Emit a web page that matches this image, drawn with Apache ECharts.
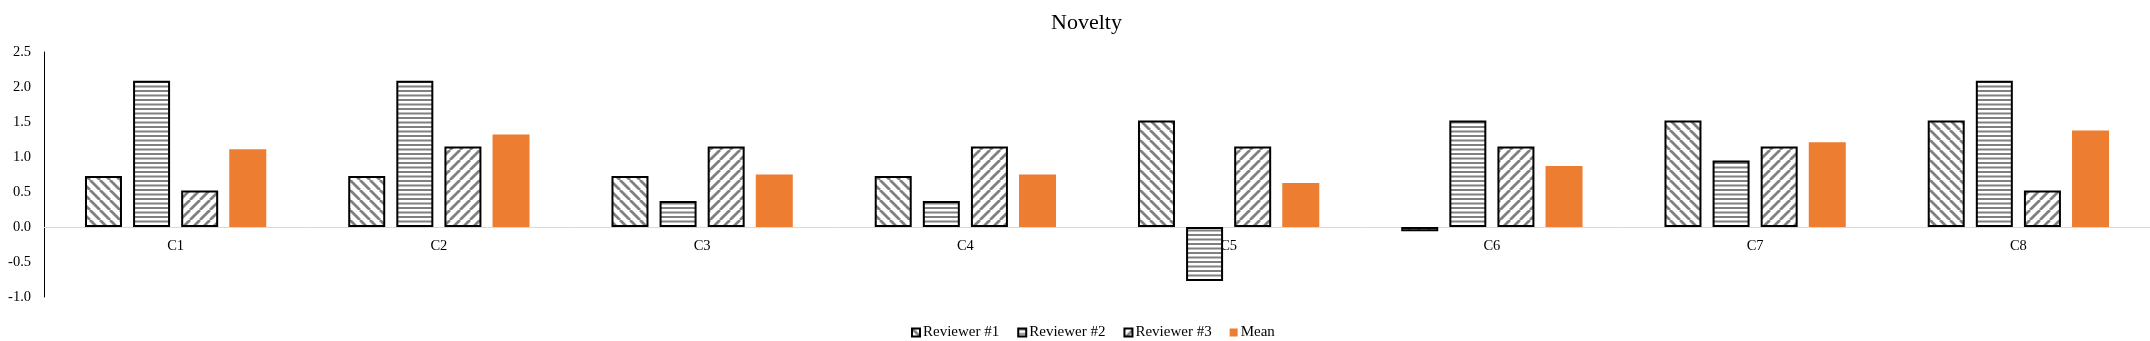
<!DOCTYPE html>
<html>
<head>
<meta charset="utf-8">
<script src="https://cdn.jsdelivr.net/npm/echarts@6/dist/echarts.min.js"></script>
<style>html,body{margin:0;padding:0;background:#fff;}#chart{width:2150px;height:341px;}</style>
</head>
<body>
<div id="chart"></div>
<script>
const categories = ['C1', 'C2', 'C3', 'C4', 'C5', 'C6', 'C7', 'C8'];
const reviewer1 = [0.73, 0.73, 0.73, 0.73, 1.52, -0.06, 1.52, 1.52];
const reviewer2 = [2.09, 2.09, 0.37, 0.37, -0.77, 1.52, 0.95, 2.09];
const reviewer3 = [0.52, 1.15, 1.15, 1.15, 1.15, 1.15, 1.15, 0.52];
const meanVals = [1.11, 1.32, 0.75, 0.75, 0.63, 0.87, 1.21, 1.38];
const seriesNames = ['Reviewer #1', 'Reviewer #2', 'Reviewer #3', 'Mean'];
const yMin = -1.0, yMax = 2.5, yStep = 0.5;

function makePattern(type) {
  const c = document.createElement('canvas');
  const ctx = c.getContext('2d');
  if (type === 'h') {
    c.width = 9; c.height = 9;
    ctx.fillStyle = '#fff'; ctx.fillRect(0, 0, 9, 9);
    ctx.fillStyle = '#808080';
    ctx.fillRect(0, 0, 9, 2);
    ctx.fillRect(0, 4.5, 9, 2);
  } else {
    const s = 10;
    c.width = s; c.height = s;
    ctx.fillStyle = '#fff'; ctx.fillRect(0, 0, s, s);
    ctx.strokeStyle = '#808080';
    ctx.lineWidth = 2.8;
    ctx.beginPath();
    for (let x = -s; x <= s; x += s) {
      if (type === 'back') { ctx.moveTo(x, 0); ctx.lineTo(x + s, s); }
      else { ctx.moveTo(x, s); ctx.lineTo(x + s, 0); }
    }
    ctx.stroke();
  }
  return { image: c, repeat: 'repeat' };
}

const font = 'Liberation Serif';
const gridTop = 52, gridBottom = 44, chartH = 341;
const plotH = chartH - gridTop - gridBottom;
const zeroOffset = -plotH * (0 - yMin) / (yMax - yMin);

const chart = echarts.init(document.getElementById('chart'), null, { renderer: 'canvas' });
const hatchStyle = (p) => ({ color: p, borderColor: '#000', borderWidth: 2 });

chart.setOption({
  animation: false,
  backgroundColor: '#fff',
  title: {
    text: 'Novelty', left: 1046, top: 7,
    textStyle: { fontFamily: font, fontSize: 22, fontWeight: 'normal', color: '#000' }
  },
  legend: {
    left: 906, top: 320, icon: 'rect', itemWidth: 8, itemHeight: 8, itemGap: 18,
    textStyle: { fontFamily: font, fontSize: 15, color: '#000', padding: [0, 0, 0, -2] },
    data: seriesNames
  },
  grid: { left: 44, right: 0, top: gridTop, bottom: gridBottom, containLabel: false },
  xAxis: {
    type: 'category', data: categories,
    offset: zeroOffset,
    axisLine: { onZero: false, lineStyle: { color: '#d9d9d9', width: 1 } },
    axisTick: { show: false },
    axisLabel: { fontFamily: font, fontSize: 14.5, color: '#000', margin: 12 }
  },
  yAxis: {
    type: 'value', min: yMin, max: yMax, interval: yStep,
    axisLine: { show: true, lineStyle: { color: '#000', width: 1 } },
    axisTick: { show: false },
    splitLine: { show: false },
    axisLabel: { fontFamily: font, fontSize: 14.5, color: '#000', margin: 13, formatter: v => v.toFixed(1) }
  },
  series: [
    { name: seriesNames[0], type: 'bar', data: reviewer1, barWidth: 37, barGap: '30%', itemStyle: hatchStyle(makePattern('back')) },
    { name: seriesNames[1], type: 'bar', data: reviewer2, barWidth: 37, barGap: '30%', itemStyle: hatchStyle(makePattern('h')) },
    { name: seriesNames[2], type: 'bar', data: reviewer3, barWidth: 37, barGap: '30%', itemStyle: hatchStyle(makePattern('fwd')) },
    { name: seriesNames[3], type: 'bar', data: meanVals, barWidth: 37, barGap: '30%', itemStyle: { color: '#ED7D31' } }
  ]
});
</script>
</body>
</html>
